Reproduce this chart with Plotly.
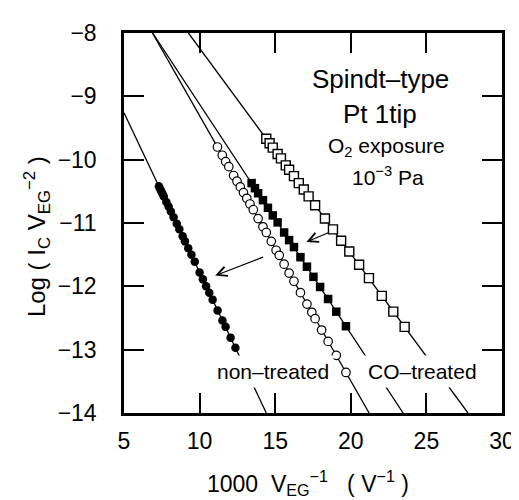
import plotly.graph_objects as go

# ---- data ----
# filled circles
fc_x = [7.31, 7.38, 7.46, 7.55, 7.63, 7.80, 7.95, 8.10, 8.28, 8.49, 8.66, 8.88, 9.03, 9.25,
        9.46, 9.68, 10.00, 10.22, 10.43, 10.64, 10.86, 11.19, 11.51, 11.72, 12.05, 12.37]
fc_y = [-10.42, -10.46, -10.50, -10.54, -10.58, -10.67, -10.74, -10.82, -10.91, -11.01, -11.10,
        -11.21, -11.29, -11.40, -11.50, -11.61, -11.78, -11.89, -12.00, -12.10, -12.21, -12.38,
        -12.54, -12.64, -12.81, -12.97]
# open circles
oc_x = [11.18, 11.50, 11.72, 11.93, 12.25, 12.47, 12.69, 12.90, 13.12, 13.33, 13.55, 13.87,
        14.19, 14.41, 14.74, 15.06, 15.27, 15.59, 15.92, 16.24, 16.67, 17.10, 17.42, 17.64,
        18.07, 18.50, 19.04, 19.68]
oc_y = [-9.80, -9.93, -10.03, -10.11, -10.25, -10.34, -10.43, -10.52, -10.61, -10.70, -10.79,
        -10.93, -11.06, -11.15, -11.29, -11.43, -11.51, -11.65, -11.79, -11.92, -12.10, -12.28,
        -12.41, -12.51, -12.69, -12.87, -13.09, -13.36]
# filled squares
fs_x = [13.44, 13.66, 13.87, 14.19, 14.52, 14.84, 15.16, 15.59, 15.92, 16.24, 16.67, 17.10,
        17.53, 17.97, 18.50, 19.04, 19.68]
fs_y = [-10.37, -10.45, -10.53, -10.64, -10.76, -10.88, -10.99, -11.15, -11.27, -11.38, -11.54,
        -11.69, -11.85, -12.01, -12.20, -12.40, -12.63]
# open squares
os_x = [14.41, 14.63, 14.84, 15.16, 15.38, 15.70, 15.92, 16.24, 16.56, 16.89, 17.21, 17.64,
        18.29, 18.82, 19.36, 19.90, 20.55, 21.20, 22.05, 22.81, 23.56]
os_y = [-9.67, -9.74, -9.81, -9.91, -9.98, -10.09, -10.16, -10.26, -10.37, -10.47, -10.58,
        -10.72, -10.93, -11.10, -11.28, -11.45, -11.66, -11.87, -12.15, -12.40, -12.64]

# fitted straight lines (end points)
fit_fc_x = [5.0, 14.41]
fit_fc_y = [-9.26, -14.0]
fit_oc_x = [6.88, 21.21]
fit_oc_y = [-8.0, -14.0]
fit_fs_x = [6.89, 23.46]
fit_fs_y = [-8.0, -14.0]
fit_os_x = [9.26, 27.75]
fit_os_y = [-8.0, -14.0]

x_ticks = [5, 10, 15, 20, 25, 30]
y_ticks = [-8, -9, -10, -11, -12, -13, -14]

FONT = "Liberation Sans, Arial, Helvetica, sans-serif"
NB = "\u00a0"

fig = go.Figure()

line_style = dict(color="black", width=1.3)
for lx, ly in [(fit_fc_x, fit_fc_y), (fit_oc_x, fit_oc_y), (fit_fs_x, fit_fs_y), (fit_os_x, fit_os_y)]:
    fig.add_trace(go.Scatter(x=lx, y=ly, mode="lines", line=line_style,
                             hoverinfo="skip", showlegend=False))

fig.add_trace(go.Scatter(x=fc_x, y=fc_y, mode="markers",
                         marker=dict(symbol="circle", size=8.5, color="black",
                                     line=dict(color="black", width=0)),
                         showlegend=False))
fig.add_trace(go.Scatter(x=oc_x, y=oc_y, mode="markers",
                         marker=dict(symbol="circle", size=8.5, color="white",
                                     line=dict(color="black", width=1.2)),
                         showlegend=False))
fig.add_trace(go.Scatter(x=fs_x, y=fs_y, mode="markers",
                         marker=dict(symbol="square", size=8.5, color="black",
                                     line=dict(color="black", width=0)),
                         showlegend=False))
fig.add_trace(go.Scatter(x=os_x, y=os_y, mode="markers",
                         marker=dict(symbol="square", size=9, color="white",
                                     line=dict(color="black", width=1.4)),
                         showlegend=False))

axis_common = dict(showgrid=False, zeroline=False, showline=True, linecolor="black",
                   linewidth=2.5, mirror="ticks", ticks="inside", ticklen=20,
                   tickwidth=2, tickcolor="black",
                   tickfont=dict(family=FONT, size=23, color="black"))

fig.update_xaxes(range=[5, 30], tickvals=x_ticks, ticklabelstandoff=6, **axis_common)
fig.update_yaxes(range=[-14, -8], tickvals=y_ticks, ticklabelstandoff=20, **axis_common)

ann = []
txt_font = dict(family=FONT, color="black")
ann.append(dict(x=21.94, y=-8.72, xref="x", yref="y", text="Spindt–type", showarrow=False,
                font=dict(size=26, **txt_font)))
ann.append(dict(x=21.94, y=-9.28, xref="x", yref="y", text="Pt 1tip", showarrow=False,
                font=dict(size=26, **txt_font)))
ann.append(dict(x=22.38, y=-9.80, xref="x", yref="y", text="O<sub>2</sub> exposure",
                showarrow=False, font=dict(size=21, **txt_font)))
ann.append(dict(x=22.49, y=-10.26, xref="x", yref="y", text="10<sup>−3</sup> Pa",
                showarrow=False, font=dict(size=21, **txt_font)))
ann.append(dict(x=14.84, y=-13.35, xref="x", yref="y", text="non–treated", showarrow=False,
                bgcolor="white", borderpad=4, font=dict(size=21, **txt_font)))
ann.append(dict(x=24.74, y=-13.35, xref="x", yref="y", text="CO–treated", showarrow=False,
                bgcolor="white", borderpad=4, font=dict(size=21, **txt_font)))

# arrows
ann.append(dict(x=11.03, y=-11.83, ax=14.30, ay=-11.53, xref="x", yref="y", axref="x",
                ayref="y", text="", showarrow=True, arrowhead=5, arrowsize=1.6,
                arrowwidth=1.2, arrowcolor="black"))
ann.append(dict(x=17.06, y=-11.30, ax=18.65, ay=-11.14, xref="x", yref="y", axref="x",
                ayref="y", text="", showarrow=True, arrowhead=5, arrowsize=1.6,
                arrowwidth=1.2, arrowcolor="black"))

# axis titles
ylab = ("Log" + NB + "(" + NB + "I<sub>C</sub>" + NB + "V<sub>EG</sub><sup>−2</sup>"
        + NB + ")")
xlab = ("1000" + NB + NB + "V<sub>EG</sub><sup>−1</sup>" + NB + NB + NB + "(" + NB
        + "V<sup>−1</sup>" + NB + ")")
ann.append(dict(x=-0.23, y=0.463, xref="paper", yref="paper", textangle=-90,
                xanchor="center", yanchor="middle",
                text=ylab, showarrow=False, font=dict(size=24, **txt_font)))
ann.append(dict(x=0.488, y=-0.185, xref="paper", yref="paper",
                xanchor="center", yanchor="middle",
                text=xlab, showarrow=False, font=dict(size=23, **txt_font)))

fig.update_layout(width=519, height=500, margin=dict(l=116, r=16, t=16, b=95),
                  paper_bgcolor="white", plot_bgcolor="white", annotations=ann,
                  font=dict(family=FONT, color="black"))

fig.write_html("out.html")
